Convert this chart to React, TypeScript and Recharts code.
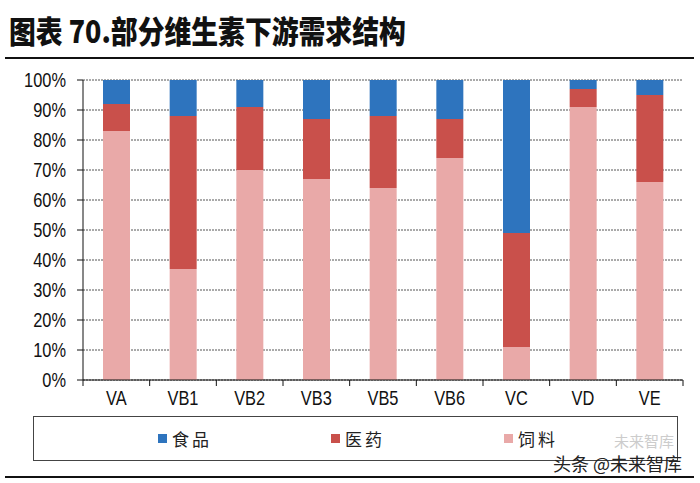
import { BarChart, Bar, XAxis, YAxis, CartesianGrid } from "recharts";

const categories = ["VA", "VB1", "VB2", "VB3", "VB5", "VB6", "VC", "VD", "VE"];
const feed = [83, 37, 70, 67, 64, 74, 11, 91, 66];
const medicine = [9, 51, 21, 20, 24, 13, 38, 6, 29];
const food = [8, 12, 9, 13, 12, 13, 51, 3, 5];
const yTicks = [0, 10, 20, 30, 40, 50, 60, 70, 80, 90, 100];

const series = [
  { key: "food", name: "食品", color: "#2e74be" },
  { key: "medicine", name: "医药", color: "#c9504b" },
  { key: "feed", name: "饲料", color: "#e9a9a8" },
];

const data = categories.map((name, i) => ({
  name,
  feed: feed[i],
  medicine: medicine[i],
  food: food[i],
}));

const PLOT_W = 600;
const PLOT_BOTTOM = 380;
const band = PLOT_W / categories.length;
const axisFont = "'Liberation Sans', Arial, sans-serif";
const cjkFont = "'Noto Sans CJK SC', sans-serif";

const XTick = (props: any) => {
  const { x, payload, index } = props;
  return (
    <g>
      <line x1={x - band / 2} y1={PLOT_BOTTOM} x2={x - band / 2} y2={PLOT_BOTTOM + 6} stroke="#111" />
      {index === categories.length - 1 && (
        <line x1={x + band / 2} y1={PLOT_BOTTOM} x2={x + band / 2} y2={PLOT_BOTTOM + 6} stroke="#111" />
      )}
      <text
        transform={`translate(${x},${PLOT_BOTTOM + 25}) scale(0.82,1)`}
        textAnchor="middle"
        fontSize={20}
        fontFamily={axisFont}
        fill="#111"
      >
        {payload.value}
      </text>
    </g>
  );
};

const YTick = (props: any) => {
  const { x, y, payload } = props;
  return (
    <text
      transform={`translate(${x},${y + 7}) scale(0.82,1)`}
      textAnchor="end"
      fontSize={20}
      fontFamily={axisFont}
      fill="#111"
    >
      {payload.value}%
    </text>
  );
};

export default function App() {
  return (
    <div style={{ position: "absolute", left: 0, top: 0, width: 700, height: 483, background: "#fff", overflow: "hidden" }}>
      <div
        style={{
          position: "absolute",
          left: 9,
          top: 11,
          lineHeight: "38px",
          fontSize: 31,
          fontWeight: 900,
          fontFamily: cjkFont,
          color: "#111",
          whiteSpace: "nowrap",
          transform: "scaleX(0.865)",
          transformOrigin: "left center",
        }}
      >
        图表 70.部分维生素下游需求结构
      </div>
      <div style={{ position: "absolute", left: 5, top: 57, width: 689, height: 2, background: "#111" }} />

      <div style={{ position: "absolute", left: 0, top: 0 }}>
        <BarChart
          width={700}
          height={483}
          data={data}
          margin={{ top: 80, right: 17, left: 23, bottom: 73 }}
          barSize={27}
        >
          <CartesianGrid vertical={false} stroke="#555" strokeDasharray="2 1" />
          <XAxis
            dataKey="name"
            height={30}
            axisLine={{ stroke: "#111" }}
            tickLine={false}
            tickSize={0}
            interval={0}
            tick={<XTick />}
          />
          <YAxis
            width={60}
            domain={[0, 100]}
            ticks={yTicks}
            interval={0}
            axisLine={{ stroke: "#111" }}
            tickLine={{ stroke: "#111" }}
            tickSize={6}
            tickMargin={11}
            tick={<YTick />}
          />
          <Bar dataKey="feed" stackId="a" fill="#e9a9a8" isAnimationActive={false} />
          <Bar dataKey="medicine" stackId="a" fill="#c9504b" isAnimationActive={false} />
          <Bar dataKey="food" stackId="a" fill="#2e74be" isAnimationActive={false} />
        </BarChart>
      </div>

      <div
        style={{
          position: "absolute",
          left: 33,
          top: 416,
          width: 645,
          height: 45,
          boxSizing: "border-box",
          border: "1.5px solid #444",
          display: "flex",
          alignItems: "center",
          paddingLeft: 124,
        }}
      >
        {series.map((s) => (
          <div key={s.key} style={{ width: 176, display: "flex", alignItems: "center" }}>
            <span style={{ width: 9, height: 9, background: s.color, marginRight: 5, display: "inline-block" }} />
            <span style={{ fontFamily: cjkFont, fontSize: 17, letterSpacing: 3, color: "#222" }}>{s.name}</span>
          </div>
        ))}
      </div>

      <div
        style={{
          position: "absolute",
          left: 614,
          top: 431,
          lineHeight: "19px",
          fontFamily: cjkFont,
          fontSize: 15,
          color: "#cccccc",
          whiteSpace: "nowrap",
        }}
      >
        未来智库
      </div>
      <div
        style={{
          position: "absolute",
          left: 553,
          top: 453,
          lineHeight: "20px",
          fontFamily: cjkFont,
          fontSize: 18,
          color: "#222",
          whiteSpace: "nowrap",
        }}
      >
        头条 @未来智库
      </div>
      <div style={{ position: "absolute", left: 5, top: 476, width: 689, height: 2, background: "#111" }} />
    </div>
  );
}
